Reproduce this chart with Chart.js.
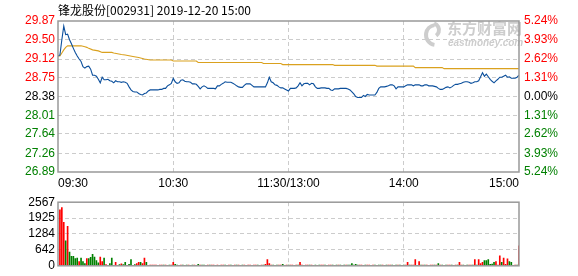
<!DOCTYPE html>
<html>
<head>
<meta charset="utf-8">
<script src="https://cdn.jsdelivr.net/npm/chart.js@4/dist/chart.umd.min.js"></script>
<style>
  html, body { margin: 0; padding: 0; background: #fff; }
  #wrap { position: relative; width: 578px; height: 276px; overflow: hidden; }
  #priceCanvas { position: absolute; left: 0; top: 0; }
  #volCanvas { position: absolute; left: 0; top: 192px; }
</style>
</head>
<body>
<div id="wrap">
  <canvas id="priceCanvas" width="578" height="192"></canvas>
  <canvas id="volCanvas" width="578" height="84"></canvas>
</div>
<script>
/* =========================================
   Intraday minute chart - 锋龙股份 002931
   ========================================= */
var TITLE = '锋龙股份[002931] 2019-12-20 15:00';
var PREV_CLOSE = 28.38;

/* --- Axis ticks --- */
var priceTicks = [26.89, 27.26, 27.64, 28.01, 28.38, 28.75, 29.12, 29.50, 29.87];
var pctLabels = ['5.24%', '3.93%', '2.62%', '1.31%', '0.00%', '1.31%', '2.62%', '3.93%', '5.24%'];
var timeTicks = [0, 60, 120, 180, 240];
var timeLabels = ['09:30', '10:30', '11:30/13:00', '14:00', '15:00'];
var volTicks = [0, 642, 1284, 1925, 2567];

/* --- Minute prices (241 points, 09:30 .. 15:00) --- */
var priceValues = [
  29.18, 29.20, 29.50, 29.77, 29.60, 29.61, 29.50, 29.42, 29.33, 29.25,
  29.18, 29.12, 29.07, 28.97, 28.94, 28.97, 28.98, 28.92, 28.80, 28.80,
  28.78, 28.72, 28.65, 28.76, 28.71, 28.71, 28.72, 28.69, 28.68, 28.65,
  28.69, 28.67, 28.67, 28.66, 28.67, 28.66, 28.64, 28.57, 28.51, 28.48,
  28.47, 28.47, 28.44, 28.42, 28.41, 28.44, 28.45, 28.49, 28.51, 28.51,
  28.51, 28.51, 28.51, 28.52, 28.52, 28.54, 28.54, 28.59, 28.61, 28.64,
  28.74, 28.67, 28.64, 28.65, 28.70, 28.71, 28.68, 28.67, 28.67, 28.66,
  28.63, 28.63, 28.62, 28.58, 28.53, 28.57, 28.59, 28.57, 28.54, 28.54,
  28.54, 28.54, 28.53, 28.59, 28.59, 28.62, 28.64, 28.67, 28.66, 28.66,
  28.66, 28.64, 28.62, 28.59, 28.57, 28.56, 28.56, 28.60, 28.63, 28.63,
  28.63, 28.60, 28.57, 28.57, 28.57, 28.57, 28.57, 28.57, 28.57, 28.65,
  28.76, 28.67, 28.65, 28.61, 28.60, 28.57, 28.55, 28.55, 28.53, 28.51,
  28.49, 28.54, 28.54, 28.54, 28.55, 28.59, 28.65, 28.59, 28.63, 28.64,
  28.64, 28.61, 28.64, 28.63, 28.57, 28.54, 28.54, 28.55, 28.55, 28.55,
  28.54, 28.54, 28.51, 28.50, 28.53, 28.53, 28.53, 28.54, 28.54, 28.54,
  28.54, 28.53, 28.51, 28.47, 28.43, 28.38, 28.36, 28.36, 28.36, 28.40,
  28.38, 28.42, 28.41, 28.41, 28.41, 28.41, 28.46, 28.54, 28.57, 28.57,
  28.57, 28.58, 28.59, 28.61, 28.61, 28.59, 28.53, 28.57, 28.57, 28.57,
  28.57, 28.59, 28.61, 28.61, 28.61, 28.59, 28.61, 28.61, 28.61, 28.59,
  28.59, 28.61, 28.61, 28.59, 28.59, 28.59, 28.58, 28.57, 28.54, 28.52,
  28.52, 28.54, 28.56, 28.57, 28.55, 28.57, 28.60, 28.62, 28.62, 28.63,
  28.64, 28.66, 28.67, 28.67, 28.66, 28.64, 28.65, 28.67, 28.67, 28.69,
  28.77, 28.85, 28.78, 28.82, 28.77, 28.72, 28.68, 28.65, 28.69, 28.72,
  28.76, 28.76, 28.78, 28.80, 28.76, 28.77, 28.74, 28.74, 28.74, 28.76, 28.80
];

/* --- Average price line, read at its turning points --- */
var avgMinutes = [0, 1, 2, 3, 4, 5, 12, 14, 15, 16, 18, 21, 23, 28, 29, 33, 35, 39, 42, 45, 48,
  59, 60, 72, 73, 106, 107, 116, 117, 143, 144, 165, 166, 185, 186, 200, 201, 240];
var avgValues = [29.18, 29.18, 29.24, 29.30, 29.35, 29.38, 29.38, 29.36, 29.35, 29.33, 29.30, 29.28, 29.25, 29.25, 29.24, 29.21, 29.20, 29.17, 29.15, 29.12, 29.10,
  29.10, 29.08, 29.08, 29.05, 29.05, 29.03, 29.03, 29.01, 29.01, 28.995, 28.995, 28.98, 28.98, 28.95, 28.95, 28.93, 28.93];

/* --- Minute volume (lots) and bar direction r = up, g = down --- */
var volumeValues = [
  0, 2255, 2348, 1758, 1006, 1596, 555, 382, 382, 289,
  312, 173, 312, 173, 92, 289, 289, 340, 463, 347,
  208, 116, 347, 173, 312, 46, 23, 92, 312, 23,
  139, 23, 46, 81, 46, 139, 23, 58, 254, 23,
  46, 92, 139, 139, 92, 312, 139, 23, 30, 25,
  28, 30, 24, 30, 26, 28, 30, 22, 28, 26,
  139, 58, 30, 24, 28, 30, 22, 26, 30, 24,
  28, 30, 24, 58, 28, 26, 30, 22, 28, 30,
  26, 28, 24, 30, 22, 28, 26, 30, 24, 28,
  30, 22, 26, 28, 30, 24, 28, 26, 22, 30,
  28, 24, 30, 26, 28, 22, 30, 26, 60, 254,
  92, 28, 30, 24, 26, 28, 30, 58, 24, 28,
  30, 26, 28, 24, 30, 26, 139, 28, 24, 30,
  26, 28, 30, 22, 28, 24, 30, 26, 28, 30,
  24, 28, 26, 30, 22, 28, 30, 26, 24, 28,
  30, 26, 28, 92, 30, 58, 26, 28, 30, 24,
  28, 30, 26, 24, 28, 30, 22, 28, 26, 30,
  24, 28, 30, 26, 28, 22, 30, 26, 28, 24,
  30, 28, 139, 26, 30, 28, 254, 24, 173, 30,
  26, 28, 30, 24, 28, 30, 26, 28, 92, 30,
  28, 24, 30, 26, 28, 30, 22, 28, 26, 139,
  28, 30, 24, 26, 30, 28, 26, 254, 30, 254,
  92, 139, 208, 208, 254, 58, 70, 139, 173, 30,
  405, 139, 312, 58, 277, 173, 139, 23, 30, 28, 809
];
var volumeDirs =
  'rrrrgrgggg' + 'grgggrgggg' + 'ggrrgrrggr' + 'rrgrggrggr' + 'grrgrrgrrr' +
  'rrgrrgrrgr' + 'rggrrgrgrr' + 'grrgrggrrg' + 'rrgrgrrggr' + 'grrgrrgrgr' +
  'rgrrgrrgrr' + 'rrgrgrrgrr' + 'grrgrgrrgr' + 'rgrrgrgrrg' + 'grrgrgrgrg' +
  'rggggggrrg' + 'grrgrgrggr' + 'ggrrgrgrgr' + 'grrgrrrgrg' + 'rgrgrrgrgr' +
  'grgrrgrrgr' + 'rgrgrrgrgr' + 'rrggggggrr' + 'rgrrrggrrgr';

/* --- Styles --- */
var RED = '#ff0000';
var GREEN = '#008000';
var GRID = '#cccccc';
var FRAME = '#999999';
var DASH = [4, 3];
var TICK_FONT = { family: 'Liberation Sans, Arial, sans-serif', size: 12 };

function priceColor(v) {
  if (Math.abs(v - PREV_CLOSE) < 0.001) return '#000000';
  return v > PREV_CLOSE ? RED : GREEN;
}

function innerGrid(ctx) {
  var n = ctx.scale.ticks.length;
  return (ctx.index === 0 || ctx.index === n - 1) ? 'rgba(0,0,0,0)' : GRID;
}

function fixedTicks(list) {
  return function (s) { s.ticks = list.map(function (v) { return { value: v }; }); };
}

/* --- Plugins --- */
var framePlugin = {
  id: 'frame',
  afterDraw: function (chart) {
    var a = chart.chartArea;
    var c = chart.ctx;
    c.save();
    c.strokeStyle = FRAME;
    c.lineWidth = 1.5;
    c.strokeRect(a.left, a.top, a.right - a.left, a.bottom - a.top);
    c.restore();
  }
};

var headerPlugin = {
  id: 'header',
  beforeDraw: function (chart) {
    var c = chart.ctx;
    c.save();
    // watermark
    c.fillStyle = '#cdcdcd';
    c.strokeStyle = '#cdcdcd';
    c.lineWidth = 4;
    c.beginPath();
    c.arc(436, 35, 10, Math.PI * 0.55, Math.PI * 1.45);
    c.stroke();
    c.beginPath();
    c.arc(432, 30, 7, Math.PI * 1.6, Math.PI * 0.3);
    c.stroke();
    c.font = 'bold 15px "Noto Sans CJK SC"';
    c.textBaseline = 'top';
    c.fillText('东方财富网', 447, 21);
    c.font = 'italic bold 10px "Liberation Sans"';
    c.fillText('eastmoney.com', 448, 38);
    // title
    c.fillStyle = '#000';
    c.font = '12px "Noto Sans CJK SC"';
    c.textBaseline = 'middle';
    c.fillText(TITLE, 58, 10);
    c.restore();
  }
};

/* --- Price chart --- */
function buildPriceChart() {
  var ctx = document.getElementById('priceCanvas').getContext('2d');
  var lo = priceTicks[0];
  var hi = priceTicks[priceTicks.length - 1];

  return new Chart(ctx, {
    type: 'line',
    data: {
      datasets: [{
        data: priceValues.map(function (v, i) { return { x: i, y: v }; }),
        borderColor: '#0b4f9c',
        borderWidth: 1.1,
        pointRadius: 0,
        tension: 0,
        yAxisID: 'y'
      }, {
        data: avgMinutes.map(function (m, i) { return { x: m, y: avgValues[i] }; }),
        borderColor: '#daa11e',
        borderWidth: 1.1,
        pointRadius: 0,
        tension: 0,
        yAxisID: 'y'
      }]
    },
    options: {
      responsive: false,
      animation: false,
      events: [],
      layout: { padding: { top: 21, left: 0, right: 0, bottom: 0 } },
      plugins: { legend: { display: false }, tooltip: { enabled: false } },
      scales: {
        x: {
          type: 'linear', min: 0, max: 240,
          afterBuildTicks: fixedTicks(timeTicks),
          afterFit: function (s) { s.height = 20; },
          ticks: {
            callback: function (v, i) { return timeLabels[i]; },
            align: 'inner', autoSkip: false, maxRotation: 0,
            color: '#000', font: TICK_FONT, padding: 4
          },
          grid: { color: innerGrid, drawTicks: false, borderDash: DASH },
          border: { display: false, dash: DASH }
        },
        y: {
          position: 'left', min: lo, max: hi,
          afterBuildTicks: fixedTicks(priceTicks),
          afterFit: function (s) { s.width = 58; },
          ticks: {
            callback: function (v) { return v.toFixed(2); },
            color: function (c) { return priceColor(c.tick.value); },
            font: TICK_FONT, padding: 3, autoSkip: false
          },
          grid: { color: innerGrid, drawTicks: false, borderDash: DASH },
          border: { display: false, dash: DASH }
        },
        y2: {
          position: 'right', min: lo, max: hi,
          afterBuildTicks: fixedTicks(priceTicks),
          afterFit: function (s) { s.width = 59; },
          ticks: {
            callback: function (v, i) { return pctLabels[i]; },
            color: function (c) { return priceColor(c.tick.value); },
            font: TICK_FONT, padding: 5, autoSkip: false
          },
          grid: { display: false, drawTicks: false },
          border: { display: false }
        }
      }
    },
    plugins: [headerPlugin, framePlugin]
  });
}

/* --- Volume chart --- */
function buildVolumeChart() {
  var ctx = document.getElementById('volCanvas').getContext('2d');

  return new Chart(ctx, {
    type: 'bar',
    data: {
      datasets: [{
        data: volumeValues.map(function (v, i) { return { x: i, y: v }; }),
        backgroundColor: volumeValues.map(function (_, i) { return volumeDirs.charAt(i) === 'r' ? RED : GREEN; }),
        barThickness: 1,
        borderWidth: 0
      }]
    },
    options: {
      responsive: false,
      animation: false,
      events: [],
      layout: { padding: { top: 4, left: 0, right: 59, bottom: 0 } },
      plugins: { legend: { display: false }, tooltip: { enabled: false } },
      scales: {
        x: {
          type: 'linear', min: 0, max: 240, offset: false,
          afterBuildTicks: fixedTicks(timeTicks),
          afterFit: function (s) { s.height = 6; },
          ticks: { display: false },
          grid: { color: innerGrid, drawTicks: false, offset: false, borderDash: DASH },
          border: { display: false, dash: DASH }
        },
        y: {
          min: 0, max: volTicks[volTicks.length - 1],
          afterBuildTicks: fixedTicks(volTicks),
          afterFit: function (s) { s.width = 58; },
          ticks: {
            callback: function (v) { return String(v); },
            color: '#000', font: TICK_FONT, padding: 3, autoSkip: false
          },
          grid: { color: innerGrid, drawTicks: false, borderDash: DASH },
          border: { display: false, dash: DASH }
        }
      }
    },
    plugins: [framePlugin]
  });
}

buildPriceChart();
buildVolumeChart();
</script>
</body>
</html>
